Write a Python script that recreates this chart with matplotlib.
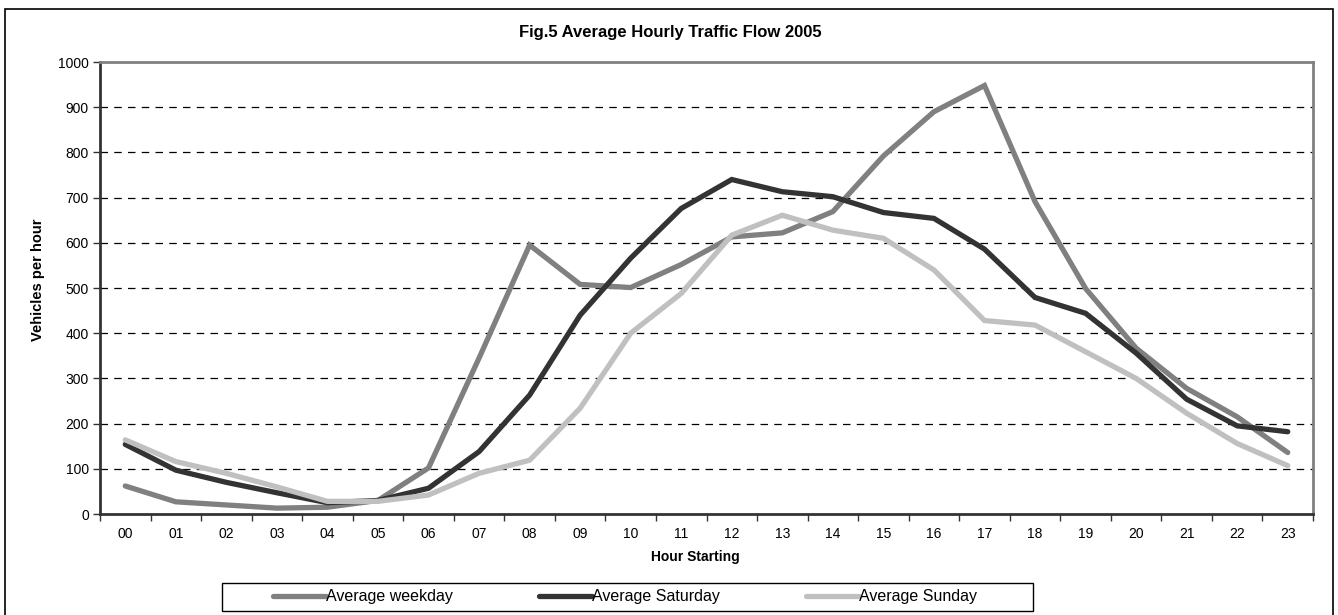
import matplotlib
matplotlib.use("Agg")
import matplotlib.pyplot as plt
from matplotlib.patches import Rectangle
import numpy as np

hours = ["00", "01", "02", "03", "04", "05", "06", "07", "08", "09", "10", "11",
         "12", "13", "14", "15", "16", "17", "18", "19", "20", "21", "22", "23"]
weekday = [62, 27, 20, 13, 15, 30, 102, 345, 595, 508, 501, 552,
           613, 622, 669, 792, 890, 948, 691, 499, 367, 278, 215, 136]
saturday = [154, 97, 70, 47, 25, 30, 57, 138, 263, 440, 566, 676,
            740, 713, 702, 667, 654, 586, 479, 444, 356, 254, 195, 182]
sunday = [164, 116, 90, 60, 28, 28, 42, 90, 119, 234, 400, 488,
          617, 661, 628, 610, 540, 428, 418, 359, 300, 223, 156, 107]
series_names = ["Average weekday", "Average Saturday", "Average Sunday"]
colors = ["#808080", "#333333", "#C0C0C0"]

plt.rcParams['font.family'] = ['Liberation Sans', 'DejaVu Sans']

fig = plt.figure(figsize=(13.38, 6.15), dpi=100)
W, H = 1338, 615
ax = fig.add_axes([100 / W, 1 - 514 / H, (1313 - 100) / W, (514 - 62) / H])

x = np.arange(len(hours))
for vals, name, c in zip([weekday, saturday, sunday], series_names, colors):
    ax.plot(x, vals, color=c, lw=3.8, label=name, solid_capstyle='round',
            solid_joinstyle='miter')

ax.set_xlim(-0.5, len(hours) - 0.5)
ax.set_ylim(0, 1000)
ax.set_yticks(np.arange(0, 1001, 100))
ax.set_xticks(x)
ax.set_xticklabels(hours, fontsize=10)
ax.set_xticks(np.arange(-0.5, len(hours), 1), minor=True)
ax.tick_params(axis='x', which='major', length=0, pad=9)
ax.tick_params(axis='x', which='minor', length=5, width=1, direction='out', color='#333333')
ax.tick_params(axis='y', length=5, width=1, direction='out', labelsize=10, pad=3,
               color='#333333')

for yv in range(100, 1000, 100):
    ax.axhline(yv, color='black', lw=0.9, ls=(0, (6, 5)), zorder=0.5)

for s in ['left', 'bottom']:
    ax.spines[s].set_color('#333333')
    ax.spines[s].set_linewidth(2)
for s in ['top', 'right']:
    ax.spines[s].set_color('#808080')
    ax.spines[s].set_linewidth(2)

fig.text(670 / W, 1 - 33 / H, "Fig.5 Average Hourly Traffic Flow 2005",
         ha='center', va='center', fontsize=12, fontweight='bold')
fig.text(38 / W, 1 - 280 / H, "Vehicles per hour", rotation=90,
         ha='center', va='center', fontsize=10.5, fontweight='bold')
fig.text(695 / W, 1 - 557 / H, "Hour Starting",
         ha='center', va='center', fontsize=10, fontweight='bold')

leg = fig.legend(loc='center', bbox_to_anchor=(625 / W, 1 - 597 / H), ncol=3,
                 fontsize=11.5, frameon=False,
                 handlelength=3.3, handletextpad=0.0, columnspacing=5.4,
                 borderpad=0, borderaxespad=0)
for h in leg.get_lines():
    h.set_linewidth(3.8)
    h.set_solid_capstyle('round')

# legend frame
fig.patches.append(Rectangle((222 / W, 1 - 611 / H), (1033 - 222) / W, (611 - 583) / H,
                             transform=fig.transFigure, fill=False,
                             edgecolor='black', lw=1.0))

# outer chart border (bottom edge lies beyond the image)
fig.patches.append(Rectangle((5 / W, -0.02), (1333 - 5) / W, 1 - 9 / H + 0.02,
                             transform=fig.transFigure, fill=False,
                             edgecolor='black', lw=1.2))

fig.savefig("out.png", dpi=100)
